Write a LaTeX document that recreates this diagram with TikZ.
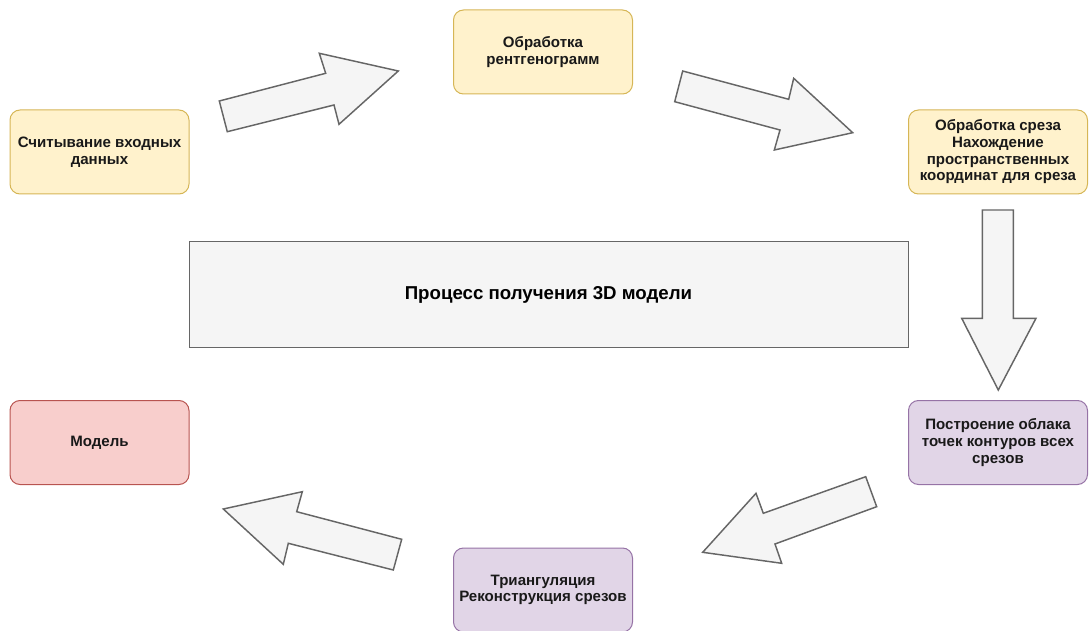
\documentclass[tikz,border=0pt]{standalone}
\usepackage{fontspec}
\setmainfont{Liberation Sans}

\definecolor{yellowfill}{HTML}{FFF2CC}
\definecolor{yellowline}{HTML}{D6B656}
\definecolor{violetfill}{HTML}{E1D5E7}
\definecolor{violetline}{HTML}{9673A6}
\definecolor{redfill}{HTML}{F8CECC}
\definecolor{redline}{HTML}{B85450}
\definecolor{grayfill}{HTML}{F5F5F5}
\definecolor{grayline}{HTML}{666666}

\tikzset{every picture/.style={line width=0.75pt}}
\tikzset{
	stepbox/.style={rounded corners=7.5pt, minimum width=134.25pt, minimum height=63pt, inner sep=0pt, align=center, text=black!90, font=\bfseries\fontsize{11.3}{12.5}\selectfont},
	yellowbox/.style={stepbox, fill=yellowfill, draw=yellowline},
	violetbox/.style={stepbox, fill=violetfill, draw=violetline},
	redbox/.style={stepbox, fill=redfill, draw=redline},
	bigarrow/.style={fill=grayfill, draw=grayline, line width=1.1pt, line join=miter},
}

\begin{document}
\begin{tikzpicture}[x=0.75pt,y=0.75pt,yscale=-1,xscale=1]
		\useasboundingbox (0,0) rectangle (1090,631);
		
		%Shape: Rectangle [title]
		\node [draw=grayline, fill=grayfill, minimum width=539.25pt, minimum height=78.75pt, inner sep=0pt, font=\bfseries\fontsize{14}{16}\selectfont] (title) at (548.5,294.5) {Процесс получения 3D модели};
		
		%Steps
		\node [yellowbox] (read) at (99.5,152) {Считывание входных\\данных};
		\node [yellowbox] (xray) at (543,52) {Обработка\\рентгенограмм};
		\node [yellowbox] (slice) at (998,152) {Обработка среза\\Нахождение\\пространственных\\координат для среза};
		\node [violetbox] (cloud) at (998,442.5) {Построение облака\\точек контуров всех\\срезов};
		\node [violetbox] (tri) at (543,590) {Триангуляция\\Реконструкция срезов};
		\node [redbox] (model) at (99.5,442.5) {Модель};
		
		%Shape: Arrow read -> xray
		\draw [bigarrow] (227.3,131.7) -- (219.3,101) -- (325.7,73.3) -- (319.3,53.3) -- (398.3,71) -- (339,124.3) -- (334,105) -- cycle ;
		%Shape: Arrow xray -> slice
		\draw [bigarrow] (682.7,71) -- (674.7,101.7) -- (780,130) -- (774.3,150) -- (852.7,132.7) -- (793.7,78.3) -- (788.7,99.3) -- cycle ;
		%Shape: Arrow slice -> cloud
		\draw [bigarrow] (982.3,210) -- (1013.3,210) -- (1013.3,318.3) -- (1036,318.3) -- (998.3,390) -- (961.7,318.3) -- (982.3,318.3) -- cycle ;
		%Shape: Arrow cloud -> tri
		\draw [bigarrow] (865.7,476.7) -- (876.7,506.7) -- (775,544) -- (781.7,563.3) -- (702.7,552.3) -- (756,493.3) -- (763.3,513.3) -- cycle ;
		%Shape: Arrow tri -> model
		\draw [bigarrow] (401.7,539.3) -- (393.3,570) -- (288.3,543.3) -- (283.3,564.3) -- (223.3,509) -- (302.3,491.7) -- (296.7,511.7) -- cycle ;
		
\end{tikzpicture}
\end{document}
